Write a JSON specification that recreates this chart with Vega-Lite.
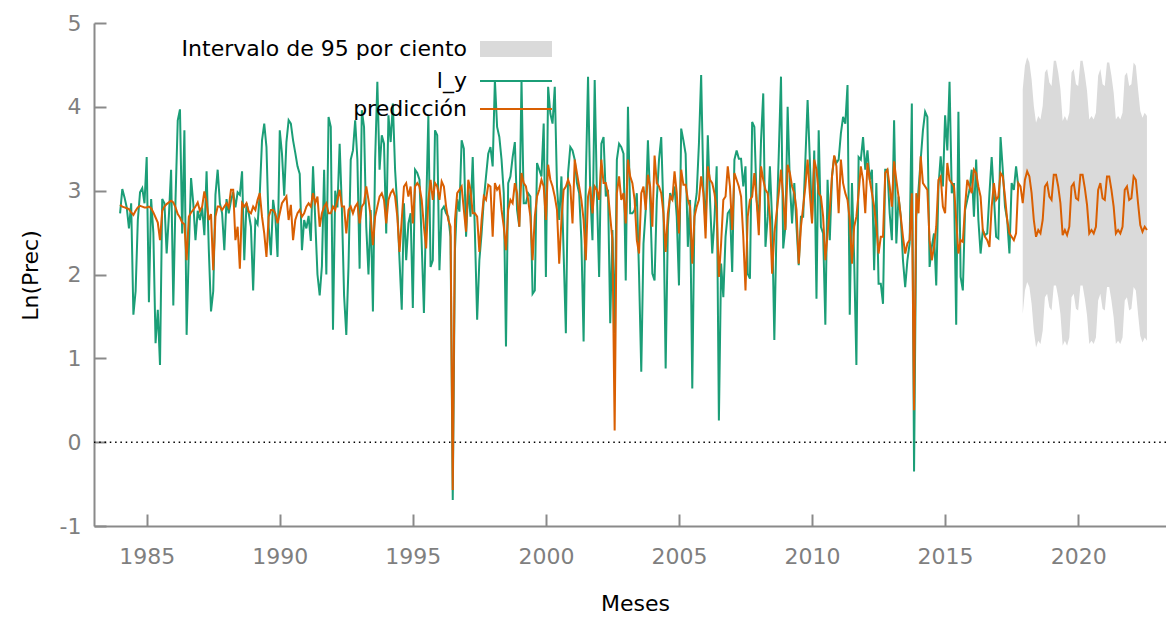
{
  "$schema": "https://vega.github.io/schema/vega-lite/v6.json",
  "width": 1072,
  "height": 503,
  "autosize": {"type": "none"},
  "padding": {"left": 94, "top": 23, "right": 0, "bottom": 91},
  "background": "#ffffff",
  "config": {
    "font": "DejaVu Sans",
    "view": {"stroke": null},
    "axis": {
      "grid": false,
      "domainColor": "#8a8a8a",
      "domainWidth": 2,
      "tickColor": "#8a8a8a",
      "tickWidth": 2,
      "tickSize": -12,
      "labelColor": "#7f7f7f",
      "labelFont": "DejaVu Sans",
      "labelFontSize": 22,
      "titleColor": "#000000",
      "titleFont": "DejaVu Sans",
      "titleFontSize": 22,
      "titleFontWeight": "normal"
    },
    "legend": {
      "title": null,
      "orient": "none",
      "padding": 0,
      "labelFont": "DejaVu Sans",
      "labelFontSize": 22,
      "labelColor": "#000000",
      "labelLimit": 500,
      "labelAlign": "right"
    }
  },
  "datasets": {
    "prec": [
      {"t":1984,"ly":2.73,"p":2.83},{"t":1984.0833,"ly":3.02,"p":2.81},{"t":1984.1667,"ly":2.92,"p":2.80},{"t":1984.25,"ly":2.80,"p":2.79},{"t":1984.3333,"ly":2.55,"p":2.78},{"t":1984.4167,"ly":2.85,"p":2.74},{"t":1984.5,"ly":1.52,"p":2.71},{"t":1984.5833,"ly":1.80,"p":2.76},{"t":1984.6667,"ly":2.65,"p":2.80},{"t":1984.75,"ly":2.98,"p":2.82},{"t":1984.8333,"ly":3.03,"p":2.81},{"t":1984.9167,"ly":2.85,"p":2.80},
      {"t":1985,"ly":3.40,"p":2.80},{"t":1985.0833,"ly":1.67,"p":2.81},{"t":1985.1667,"ly":2.90,"p":2.79},{"t":1985.25,"ly":2.50,"p":2.74},{"t":1985.3333,"ly":1.18,"p":2.68},{"t":1985.4167,"ly":1.58,"p":2.62},{"t":1985.5,"ly":0.92,"p":2.41},{"t":1985.5833,"ly":2.90,"p":2.76},{"t":1985.6667,"ly":2.85,"p":2.81},{"t":1985.75,"ly":2.25,"p":2.84},{"t":1985.8333,"ly":2.70,"p":2.86},{"t":1985.9167,"ly":3.25,"p":2.88},
      {"t":1986,"ly":1.63,"p":2.86},{"t":1986.0833,"ly":2.90,"p":2.80},{"t":1986.1667,"ly":3.84,"p":2.72},{"t":1986.25,"ly":3.97,"p":2.68},{"t":1986.3333,"ly":2.49,"p":2.62},{"t":1986.4167,"ly":3.72,"p":2.60},{"t":1986.5,"ly":1.28,"p":2.17},{"t":1986.5833,"ly":2.30,"p":2.69},{"t":1986.6667,"ly":3.15,"p":2.74},{"t":1986.75,"ly":2.85,"p":2.77},{"t":1986.8333,"ly":2.41,"p":2.81},{"t":1986.9167,"ly":2.76,"p":2.86},
      {"t":1987,"ly":2.65,"p":2.76},{"t":1987.0833,"ly":2.80,"p":2.81},{"t":1987.1667,"ly":2.47,"p":2.99},{"t":1987.25,"ly":3.23,"p":2.87},{"t":1987.3333,"ly":2.30,"p":2.65},{"t":1987.4167,"ly":1.56,"p":2.72},{"t":1987.5,"ly":1.80,"p":2.05},{"t":1987.5833,"ly":2.95,"p":2.69},{"t":1987.6667,"ly":3.25,"p":2.81},{"t":1987.75,"ly":2.85,"p":2.81},{"t":1987.8333,"ly":2.73,"p":2.77},{"t":1987.9167,"ly":2.29,"p":2.81},
      {"t":1988,"ly":2.90,"p":2.85},{"t":1988.0833,"ly":2.73,"p":2.80},{"t":1988.1667,"ly":2.88,"p":3.01},{"t":1988.25,"ly":2.98,"p":3.01},{"t":1988.3333,"ly":2.80,"p":2.41},{"t":1988.4167,"ly":2.98,"p":2.57},{"t":1988.5,"ly":2.95,"p":2.07},{"t":1988.5833,"ly":3.23,"p":2.85},{"t":1988.6667,"ly":2.17,"p":2.81},{"t":1988.75,"ly":2.85,"p":2.85},{"t":1988.8333,"ly":2.73,"p":2.75},{"t":1988.9167,"ly":2.57,"p":2.73},
      {"t":1989,"ly":1.81,"p":2.81},{"t":1989.0833,"ly":2.65,"p":2.77},{"t":1989.1667,"ly":2.60,"p":2.89},{"t":1989.25,"ly":2.97,"p":2.97},{"t":1989.3333,"ly":3.60,"p":2.69},{"t":1989.4167,"ly":3.80,"p":2.49},{"t":1989.5,"ly":3.52,"p":2.21},{"t":1989.5833,"ly":2.57,"p":2.69},{"t":1989.6667,"ly":2.23,"p":2.77},{"t":1989.75,"ly":2.89,"p":2.77},{"t":1989.8333,"ly":2.69,"p":2.73},{"t":1989.9167,"ly":2.21,"p":2.61},
      {"t":1990,"ly":3.72,"p":2.73},{"t":1990.0833,"ly":3.44,"p":2.85},{"t":1990.1667,"ly":2.94,"p":2.89},{"t":1990.25,"ly":3.58,"p":2.93},{"t":1990.3333,"ly":3.84,"p":2.65},{"t":1990.4167,"ly":3.80,"p":2.83},{"t":1990.5,"ly":3.60,"p":2.41},{"t":1990.5833,"ly":3.45,"p":2.65},{"t":1990.6667,"ly":3.29,"p":2.73},{"t":1990.75,"ly":3.20,"p":2.77},{"t":1990.8333,"ly":2.29,"p":2.69},{"t":1990.9167,"ly":2.65,"p":2.73},
      {"t":1991,"ly":2.55,"p":2.81},{"t":1991.0833,"ly":2.70,"p":2.85},{"t":1991.1667,"ly":2.40,"p":2.81},{"t":1991.25,"ly":3.29,"p":2.97},{"t":1991.3333,"ly":2.65,"p":2.85},{"t":1991.4167,"ly":2.00,"p":2.93},{"t":1991.5,"ly":1.75,"p":2.57},{"t":1991.5833,"ly":2.10,"p":2.73},{"t":1991.6667,"ly":3.25,"p":2.81},{"t":1991.75,"ly":2.00,"p":2.85},{"t":1991.8333,"ly":3.88,"p":2.73},{"t":1991.9167,"ly":3.76,"p":2.73},
      {"t":1992,"ly":1.34,"p":2.81},{"t":1992.0833,"ly":3.00,"p":2.77},{"t":1992.1667,"ly":2.80,"p":2.89},{"t":1992.25,"ly":3.56,"p":3.01},{"t":1992.3333,"ly":2.80,"p":2.81},{"t":1992.4167,"ly":1.75,"p":2.81},{"t":1992.5,"ly":1.28,"p":2.49},{"t":1992.5833,"ly":2.10,"p":2.77},{"t":1992.6667,"ly":3.37,"p":2.81},{"t":1992.75,"ly":3.48,"p":2.73},{"t":1992.8333,"ly":3.84,"p":2.81},{"t":1992.9167,"ly":3.37,"p":2.85},
      {"t":1993,"ly":2.07,"p":2.61},{"t":1993.0833,"ly":3.96,"p":2.81},{"t":1993.1667,"ly":3.76,"p":2.85},{"t":1993.25,"ly":2.57,"p":3.05},{"t":1993.3333,"ly":2.00,"p":2.89},{"t":1993.4167,"ly":2.77,"p":2.69},{"t":1993.5,"ly":1.56,"p":2.35},{"t":1993.5833,"ly":3.37,"p":2.69},{"t":1993.6667,"ly":4.30,"p":2.81},{"t":1993.75,"ly":3.25,"p":2.93},{"t":1993.8333,"ly":3.66,"p":2.97},{"t":1993.9167,"ly":3.56,"p":2.89},
      {"t":1994,"ly":2.49,"p":2.61},{"t":1994.0833,"ly":3.90,"p":2.89},{"t":1994.1667,"ly":3.58,"p":2.97},{"t":1994.25,"ly":4.04,"p":3.01},{"t":1994.3333,"ly":3.25,"p":2.93},{"t":1994.4167,"ly":2.80,"p":2.69},{"t":1994.5,"ly":2.17,"p":2.27},{"t":1994.5833,"ly":1.58,"p":2.65},{"t":1994.6667,"ly":2.85,"p":3.05},{"t":1994.75,"ly":2.17,"p":3.09},{"t":1994.8333,"ly":2.61,"p":2.93},{"t":1994.9167,"ly":2.73,"p":3.05},
      {"t":1995,"ly":1.60,"p":2.61},{"t":1995.0833,"ly":3.25,"p":3.05},{"t":1995.1667,"ly":3.21,"p":3.09},{"t":1995.25,"ly":3.13,"p":3.05},{"t":1995.3333,"ly":2.37,"p":2.89},{"t":1995.4167,"ly":1.54,"p":2.57},{"t":1995.5,"ly":2.77,"p":2.31},{"t":1995.5833,"ly":3.90,"p":2.89},{"t":1995.6667,"ly":2.09,"p":3.13},{"t":1995.75,"ly":2.17,"p":2.89},{"t":1995.8333,"ly":3.72,"p":3.09},{"t":1995.9167,"ly":3.66,"p":3.05},
      {"t":1996,"ly":2.05,"p":2.89},{"t":1996.0833,"ly":2.77,"p":3.11},{"t":1996.1667,"ly":2.81,"p":3.05},{"t":1996.25,"ly":2.73,"p":2.81},{"t":1996.3333,"ly":2.69,"p":2.65},{"t":1996.4167,"ly":2.45,"p":2.57},{"t":1996.5,"ly":-0.69,"p":-0.57},{"t":1996.5833,"ly":2.30,"p":2.65},{"t":1996.6667,"ly":2.90,"p":2.97},{"t":1996.75,"ly":2.75,"p":3.01},{"t":1996.8333,"ly":3.60,"p":3.05},{"t":1996.9167,"ly":3.50,"p":2.77},
      {"t":1997,"ly":2.45,"p":2.51},{"t":1997.0833,"ly":3.05,"p":3.13},{"t":1997.1667,"ly":2.69,"p":3.01},{"t":1997.25,"ly":3.40,"p":2.73},{"t":1997.3333,"ly":2.49,"p":2.73},{"t":1997.4167,"ly":1.46,"p":2.69},{"t":1997.5,"ly":2.17,"p":2.27},{"t":1997.5833,"ly":2.49,"p":2.65},{"t":1997.6667,"ly":2.89,"p":2.93},{"t":1997.75,"ly":3.17,"p":2.89},{"t":1997.8333,"ly":3.44,"p":3.07},{"t":1997.9167,"ly":3.52,"p":3.05},
      {"t":1998,"ly":3.29,"p":2.45},{"t":1998.0833,"ly":4.32,"p":3.09},{"t":1998.1667,"ly":3.76,"p":3.01},{"t":1998.25,"ly":3.64,"p":3.05},{"t":1998.3333,"ly":3.37,"p":2.77},{"t":1998.4167,"ly":2.97,"p":2.57},{"t":1998.5,"ly":1.14,"p":2.29},{"t":1998.5833,"ly":3.09,"p":2.77},{"t":1998.6667,"ly":3.17,"p":2.89},{"t":1998.75,"ly":3.40,"p":2.85},{"t":1998.8333,"ly":3.58,"p":3.09},{"t":1998.9167,"ly":2.77,"p":2.97},
      {"t":1999,"ly":2.57,"p":2.57},{"t":1999.0833,"ly":4.32,"p":3.21},{"t":1999.1667,"ly":2.85,"p":3.09},{"t":1999.25,"ly":2.85,"p":3.05},{"t":1999.3333,"ly":2.97,"p":2.89},{"t":1999.4167,"ly":2.93,"p":2.69},{"t":1999.5,"ly":1.77,"p":2.17},{"t":1999.5833,"ly":1.81,"p":2.69},{"t":1999.6667,"ly":3.33,"p":2.93},{"t":1999.75,"ly":3.25,"p":3.01},{"t":1999.8333,"ly":3.17,"p":3.13},{"t":1999.9167,"ly":3.80,"p":3.05},
      {"t":2000,"ly":1.97,"p":2.65},{"t":2000.0833,"ly":4.24,"p":3.31},{"t":2000.1667,"ly":3.92,"p":3.13},{"t":2000.25,"ly":3.80,"p":3.05},{"t":2000.3333,"ly":4.24,"p":2.93},{"t":2000.4167,"ly":3.05,"p":2.77},{"t":2000.5,"ly":2.65,"p":2.13},{"t":2000.5833,"ly":3.17,"p":2.65},{"t":2000.6667,"ly":2.25,"p":3.01},{"t":2000.75,"ly":1.30,"p":3.05},{"t":2000.8333,"ly":3.21,"p":3.13},{"t":2000.9167,"ly":3.52,"p":3.05},
      {"t":2001,"ly":3.48,"p":2.61},{"t":2001.0833,"ly":3.37,"p":3.37},{"t":2001.1667,"ly":3.09,"p":3.21},{"t":2001.25,"ly":2.97,"p":3.05},{"t":2001.3333,"ly":2.41,"p":2.89},{"t":2001.4167,"ly":1.20,"p":2.65},{"t":2001.5,"ly":3.13,"p":2.17},{"t":2001.5833,"ly":4.36,"p":2.93},{"t":2001.6667,"ly":2.97,"p":3.05},{"t":2001.75,"ly":2.41,"p":2.73},{"t":2001.8333,"ly":4.32,"p":3.05},{"t":2001.9167,"ly":2.97,"p":3.01},
      {"t":2002,"ly":1.97,"p":2.89},{"t":2002.0833,"ly":3.56,"p":3.37},{"t":2002.1667,"ly":3.64,"p":3.09},{"t":2002.25,"ly":2.93,"p":3.09},{"t":2002.3333,"ly":3.01,"p":2.97},{"t":2002.4167,"ly":1.42,"p":2.69},{"t":2002.5,"ly":2.53,"p":2.41},{"t":2002.5833,"ly":1.30,"p":0.14},{"t":2002.6667,"ly":3.37,"p":2.97},{"t":2002.75,"ly":3.56,"p":3.17},{"t":2002.8333,"ly":3.52,"p":2.89},{"t":2002.9167,"ly":3.44,"p":2.97},
      {"t":2003,"ly":1.93,"p":2.61},{"t":2003.0833,"ly":4.00,"p":3.37},{"t":2003.1667,"ly":2.73,"p":3.17},{"t":2003.25,"ly":2.73,"p":3.09},{"t":2003.3333,"ly":2.77,"p":2.89},{"t":2003.4167,"ly":2.97,"p":2.41},{"t":2003.5,"ly":2.00,"p":2.25},{"t":2003.5833,"ly":0.84,"p":2.97},{"t":2003.6667,"ly":2.37,"p":3.05},{"t":2003.75,"ly":2.77,"p":2.77},{"t":2003.8333,"ly":3.60,"p":3.19},{"t":2003.9167,"ly":2.89,"p":3.05},
      {"t":2004,"ly":2.01,"p":2.57},{"t":2004.0833,"ly":1.93,"p":3.42},{"t":2004.1667,"ly":2.89,"p":3.09},{"t":2004.25,"ly":3.37,"p":3.05},{"t":2004.3333,"ly":3.64,"p":2.97},{"t":2004.4167,"ly":2.77,"p":2.73},{"t":2004.5,"ly":0.88,"p":2.27},{"t":2004.5833,"ly":2.57,"p":2.73},{"t":2004.6667,"ly":2.97,"p":2.93},{"t":2004.75,"ly":2.89,"p":2.89},{"t":2004.8333,"ly":3.05,"p":3.23},{"t":2004.9167,"ly":2.69,"p":2.97},
      {"t":2005,"ly":1.87,"p":2.49},{"t":2005.0833,"ly":3.74,"p":3.25},{"t":2005.1667,"ly":3.60,"p":3.07},{"t":2005.25,"ly":3.44,"p":3.07},{"t":2005.3333,"ly":2.33,"p":2.89},{"t":2005.4167,"ly":2.89,"p":2.81},{"t":2005.5,"ly":0.64,"p":2.13},{"t":2005.5833,"ly":2.77,"p":2.69},{"t":2005.6667,"ly":2.97,"p":2.81},{"t":2005.75,"ly":3.56,"p":2.89},{"t":2005.8333,"ly":4.38,"p":3.17},{"t":2005.9167,"ly":3.05,"p":2.97},
      {"t":2006,"ly":2.57,"p":2.43},{"t":2006.0833,"ly":3.66,"p":3.29},{"t":2006.1667,"ly":2.89,"p":3.13},{"t":2006.25,"ly":2.25,"p":3.09},{"t":2006.3333,"ly":2.65,"p":2.97},{"t":2006.4167,"ly":3.29,"p":2.77},{"t":2006.5,"ly":0.26,"p":1.97},{"t":2006.5833,"ly":2.13,"p":2.37},{"t":2006.6667,"ly":1.73,"p":2.89},{"t":2006.75,"ly":2.45,"p":2.93},{"t":2006.8333,"ly":2.73,"p":3.29},{"t":2006.9167,"ly":2.77,"p":3.05},
      {"t":2007,"ly":2.03,"p":2.53},{"t":2007.0833,"ly":3.37,"p":3.21},{"t":2007.1667,"ly":3.48,"p":3.13},{"t":2007.25,"ly":3.38,"p":3.05},{"t":2007.3333,"ly":3.38,"p":2.93},{"t":2007.4167,"ly":3.05,"p":2.45},{"t":2007.5,"ly":3.29,"p":1.81},{"t":2007.5833,"ly":2.01,"p":2.69},{"t":2007.6667,"ly":1.95,"p":2.89},{"t":2007.75,"ly":3.82,"p":2.93},{"t":2007.8333,"ly":3.76,"p":3.21},{"t":2007.9167,"ly":2.89,"p":2.89},
      {"t":2008,"ly":2.65,"p":2.47},{"t":2008.0833,"ly":3.60,"p":3.29},{"t":2008.1667,"ly":4.16,"p":3.13},{"t":2008.25,"ly":2.33,"p":3.01},{"t":2008.3333,"ly":2.69,"p":2.97},{"t":2008.4167,"ly":3.29,"p":2.69},{"t":2008.5,"ly":2.65,"p":2.01},{"t":2008.5833,"ly":1.22,"p":2.49},{"t":2008.6667,"ly":2.57,"p":2.73},{"t":2008.75,"ly":3.44,"p":2.97},{"t":2008.8333,"ly":4.36,"p":3.25},{"t":2008.9167,"ly":2.31,"p":2.93},
      {"t":2009,"ly":2.57,"p":2.53},{"t":2009.0833,"ly":4.00,"p":3.31},{"t":2009.1667,"ly":3.09,"p":3.21},{"t":2009.25,"ly":2.61,"p":3.05},{"t":2009.3333,"ly":3.09,"p":2.97},{"t":2009.4167,"ly":2.57,"p":2.77},{"t":2009.5,"ly":2.11,"p":2.13},{"t":2009.5833,"ly":2.69,"p":2.57},{"t":2009.6667,"ly":2.69,"p":2.81},{"t":2009.75,"ly":3.37,"p":3.05},{"t":2009.8333,"ly":4.08,"p":3.37},{"t":2009.9167,"ly":3.37,"p":2.97},
      {"t":2010,"ly":2.65,"p":2.61},{"t":2010.0833,"ly":3.48,"p":3.37},{"t":2010.1667,"ly":1.71,"p":3.25},{"t":2010.25,"ly":3.72,"p":2.97},{"t":2010.3333,"ly":2.57,"p":2.93},{"t":2010.4167,"ly":2.49,"p":2.69},{"t":2010.5,"ly":1.40,"p":2.17},{"t":2010.5833,"ly":3.13,"p":2.49},{"t":2010.6667,"ly":2.41,"p":2.77},{"t":2010.75,"ly":3.17,"p":3.17},{"t":2010.8333,"ly":3.41,"p":3.42},{"t":2010.9167,"ly":3.33,"p":3.29},
      {"t":2011,"ly":3.37,"p":2.73},{"t":2011.0833,"ly":3.68,"p":3.37},{"t":2011.1667,"ly":3.88,"p":3.09},{"t":2011.25,"ly":3.80,"p":2.97},{"t":2011.3333,"ly":4.26,"p":2.89},{"t":2011.4167,"ly":1.52,"p":2.65},{"t":2011.5,"ly":3.09,"p":2.13},{"t":2011.5833,"ly":2.17,"p":2.57},{"t":2011.6667,"ly":0.92,"p":2.69},{"t":2011.75,"ly":3.40,"p":2.97},{"t":2011.8333,"ly":3.37,"p":3.29},{"t":2011.9167,"ly":3.64,"p":3.13},
      {"t":2012,"ly":3.25,"p":2.73},{"t":2012.0833,"ly":3.48,"p":3.33},{"t":2012.1667,"ly":3.13,"p":3.13},{"t":2012.25,"ly":3.25,"p":2.97},{"t":2012.3333,"ly":2.05,"p":2.81},{"t":2012.4167,"ly":3.09,"p":2.57},{"t":2012.5,"ly":1.89,"p":2.25},{"t":2012.5833,"ly":1.89,"p":2.45},{"t":2012.6667,"ly":1.65,"p":2.45},{"t":2012.75,"ly":3.25,"p":3.21},{"t":2012.8333,"ly":3.25,"p":3.25},{"t":2012.9167,"ly":2.73,"p":3.05},
      {"t":2013,"ly":2.41,"p":2.81},{"t":2013.0833,"ly":3.84,"p":3.35},{"t":2013.1667,"ly":2.37,"p":3.13},{"t":2013.25,"ly":2.93,"p":2.93},{"t":2013.3333,"ly":2.69,"p":2.69},{"t":2013.4167,"ly":2.17,"p":2.45},{"t":2013.5,"ly":1.85,"p":2.25},{"t":2013.5833,"ly":2.17,"p":2.37},{"t":2013.6667,"ly":2.37,"p":2.41},{"t":2013.75,"ly":4.04,"p":2.97},{"t":2013.8333,"ly":-0.35,"p":0.38},{"t":2013.9167,"ly":2.69,"p":2.97},
      {"t":2014,"ly":3.01,"p":2.73},{"t":2014.0833,"ly":3.37,"p":3.41},{"t":2014.1667,"ly":3.72,"p":3.09},{"t":2014.25,"ly":3.94,"p":3.05},{"t":2014.3333,"ly":3.88,"p":3.01},{"t":2014.4167,"ly":2.09,"p":2.41},{"t":2014.5,"ly":2.33,"p":2.17},{"t":2014.5833,"ly":2.49,"p":2.33},{"t":2014.6667,"ly":1.87,"p":2.57},{"t":2014.75,"ly":3.05,"p":3.13},{"t":2014.8333,"ly":3.41,"p":3.17},{"t":2014.9167,"ly":3.05,"p":2.81},
      {"t":2015,"ly":3.90,"p":2.73},{"t":2015.0833,"ly":3.48,"p":3.33},{"t":2015.1667,"ly":4.30,"p":3.13},{"t":2015.25,"ly":2.97,"p":3.09},{"t":2015.3333,"ly":3.09,"p":3.05},{"t":2015.4167,"ly":1.40,"p":2.65},{"t":2015.5,"ly":3.94,"p":2.25},{"t":2015.5833,"ly":1.97,"p":2.41},{"t":2015.6667,"ly":1.81,"p":2.39},{"t":2015.75,"ly":2.77,"p":2.81},{"t":2015.8333,"ly":2.89,"p":3.13},{"t":2015.9167,"ly":3.01,"p":3.05},
      {"t":2016,"ly":3.25,"p":2.97},{"t":2016.0833,"ly":2.69,"p":3.25},{"t":2016.1667,"ly":3.37,"p":3.21},{"t":2016.25,"ly":2.65,"p":3.05},{"t":2016.3333,"ly":2.25,"p":2.93},{"t":2016.4167,"ly":2.53,"p":2.53},{"t":2016.5,"ly":2.47,"p":2.45},{"t":2016.5833,"ly":2.49,"p":2.41},{"t":2016.6667,"ly":2.97,"p":2.33},{"t":2016.75,"ly":3.40,"p":2.81},{"t":2016.8333,"ly":2.93,"p":3.09},{"t":2016.9167,"ly":2.45,"p":2.89},
      {"t":2017,"ly":2.43,"p":2.93},{"t":2017.0833,"ly":3.64,"p":3.21},{"t":2017.1667,"ly":3.25,"p":3.17},{"t":2017.25,"ly":2.81,"p":2.93},{"t":2017.3333,"ly":2.65,"p":2.65},{"t":2017.4167,"ly":2.25,"p":2.49},{"t":2017.5,"ly":3.09,"p":2.45},{"t":2017.5833,"ly":3.01,"p":2.41},{"t":2017.6667,"ly":3.29,"p":2.49},{"t":2017.75,"ly":3.05,"p":3.09},{"t":2017.8333,"p":3.05},{"t":2017.9167,"p":2.85,"lo":1.53,"hi":4.21},
      {"t":2018,"p":3.13,"lo":1.81,"hi":4.49},{"t":2018.0833,"p":3.23,"lo":1.91,"hi":4.59},{"t":2018.1667,"p":3.17,"lo":1.85,"hi":4.53},{"t":2018.25,"p":2.97,"lo":1.65,"hi":4.33},{"t":2018.3333,"p":2.65,"lo":1.33,"hi":4.01},{"t":2018.4167,"p":2.45,"lo":1.13,"hi":3.81},{"t":2018.5,"p":2.53,"lo":1.21,"hi":3.89},{"t":2018.5833,"p":2.49,"lo":1.17,"hi":3.85},{"t":2018.6667,"p":2.65,"lo":1.33,"hi":4.01},{"t":2018.75,"p":3.05,"lo":1.73,"hi":4.41},{"t":2018.8333,"p":3.09,"lo":1.77,"hi":4.45},{"t":2018.9167,"p":2.93,"lo":1.61,"hi":4.29},
      {"t":2019,"p":2.89,"lo":1.57,"hi":4.25},{"t":2019.0833,"p":3.19,"lo":1.87,"hi":4.55},{"t":2019.1667,"p":3.19,"lo":1.87,"hi":4.55},{"t":2019.25,"p":3.05,"lo":1.73,"hi":4.41},{"t":2019.3333,"p":2.85,"lo":1.53,"hi":4.21},{"t":2019.4167,"p":2.47,"lo":1.15,"hi":3.83},{"t":2019.5,"p":2.53,"lo":1.21,"hi":3.89},{"t":2019.5833,"p":2.47,"lo":1.15,"hi":3.83},{"t":2019.6667,"p":2.57,"lo":1.25,"hi":3.93},{"t":2019.75,"p":3.05,"lo":1.73,"hi":4.41},{"t":2019.8333,"p":3.09,"lo":1.77,"hi":4.45},{"t":2019.9167,"p":2.91,"lo":1.59,"hi":4.27},
      {"t":2020,"p":2.89,"lo":1.57,"hi":4.25},{"t":2020.0833,"p":3.19,"lo":1.87,"hi":4.55},{"t":2020.1667,"p":3.19,"lo":1.87,"hi":4.55},{"t":2020.25,"p":3.03,"lo":1.71,"hi":4.39},{"t":2020.3333,"p":2.83,"lo":1.51,"hi":4.19},{"t":2020.4167,"p":2.49,"lo":1.17,"hi":3.85},{"t":2020.5,"p":2.53,"lo":1.21,"hi":3.89},{"t":2020.5833,"p":2.49,"lo":1.17,"hi":3.85},{"t":2020.6667,"p":2.57,"lo":1.25,"hi":3.93},{"t":2020.75,"p":3.01,"lo":1.69,"hi":4.37},{"t":2020.8333,"p":3.09,"lo":1.77,"hi":4.45},{"t":2020.9167,"p":2.91,"lo":1.59,"hi":4.27},
      {"t":2021,"p":2.89,"lo":1.57,"hi":4.25},{"t":2021.0833,"p":3.17,"lo":1.85,"hi":4.53},{"t":2021.1667,"p":3.17,"lo":1.85,"hi":4.53},{"t":2021.25,"p":3.01,"lo":1.69,"hi":4.37},{"t":2021.3333,"p":2.81,"lo":1.49,"hi":4.17},{"t":2021.4167,"p":2.49,"lo":1.17,"hi":3.85},{"t":2021.5,"p":2.53,"lo":1.21,"hi":3.89},{"t":2021.5833,"p":2.49,"lo":1.17,"hi":3.85},{"t":2021.6667,"p":2.57,"lo":1.25,"hi":3.93},{"t":2021.75,"p":3.01,"lo":1.69,"hi":4.37},{"t":2021.8333,"p":3.05,"lo":1.73,"hi":4.41},{"t":2021.9167,"p":2.89,"lo":1.57,"hi":4.25},
      {"t":2022,"p":2.91,"lo":1.59,"hi":4.27},{"t":2022.0833,"p":3.17,"lo":1.85,"hi":4.53},{"t":2022.1667,"p":3.13,"lo":1.81,"hi":4.49},{"t":2022.25,"p":2.85,"lo":1.53,"hi":4.21},{"t":2022.3333,"p":2.59,"lo":1.27,"hi":3.95},{"t":2022.4167,"p":2.51,"lo":1.19,"hi":3.87},{"t":2022.5,"p":2.57,"lo":1.25,"hi":3.93},{"t":2022.5833,"p":2.53,"lo":1.21,"hi":3.89}
    ]
  },
  "data": {"name": "prec"},
  "layer": [
    {
      "transform": [{"filter": "isValid(datum.lo)"}],
      "mark": {"type": "area", "opacity": 1},
      "encoding": {
        "x": {
          "field": "t",
          "type": "quantitative",
          "scale": {"domain": [1983.02, 2023.3], "nice": false, "zero": false},
          "axis": {"title": "Meses", "values": [1985, 1990, 1995, 2000, 2005, 2010, 2015, 2020], "labelExpr": "toString(datum.value)", "labelPadding": 42, "labelBaseline": "middle", "titleX": 541, "titleY": 77, "titleBaseline": "middle"}
        },
        "y": {
          "field": "lo",
          "type": "quantitative",
          "scale": {"domain": [-1, 5], "nice": false, "zero": false},
          "axis": {"title": "Ln(Prec)", "values": [-1, 0, 1, 2, 3, 4, 5], "labelExpr": "toString(datum.value)", "labelPadding": 25, "titleX": -64, "titleY": 252, "titleBaseline": "middle"}
        },
        "y2": {"field": "hi"},
        "fill": {
          "datum": "Intervalo de 95 por ciento",
          "type": "nominal",
          "scale": {"range": ["#dadada"]},
          "legend": {"legendX": 410, "legendY": 14, "symbolType": "M-3,-0.67H3V0.67H-3Z", "symbolSize": 576, "symbolStrokeWidth": 0, "labelOffset": -61}
        }
      }
    },
    {
      "data": {"values": [{}]},
      "mark": {"type": "rule", "color": "#000000", "strokeWidth": 1.5, "strokeDash": [1.5, 3.8]},
      "encoding": {
        "y": {
          "datum": 0,
          "type": "quantitative",
          "scale": {"domain": [-1, 5], "nice": false, "zero": false},
          "axis": {"title": "Ln(Prec)", "values": [-1, 0, 1, 2, 3, 4, 5], "labelExpr": "toString(datum.value)", "labelPadding": 25, "titleX": -64, "titleY": 252, "titleBaseline": "middle"}
        }
      }
    },
    {
      "transform": [{"filter": "isValid(datum.ly)"}],
      "mark": {"type": "line", "strokeWidth": 2},
      "encoding": {
        "x": {
          "field": "t",
          "type": "quantitative",
          "scale": {"domain": [1983.02, 2023.3], "nice": false, "zero": false},
          "axis": {"title": "Meses", "values": [1985, 1990, 1995, 2000, 2005, 2010, 2015, 2020], "labelExpr": "toString(datum.value)", "labelPadding": 42, "labelBaseline": "middle", "titleX": 541, "titleY": 77, "titleBaseline": "middle"}
        },
        "y": {
          "field": "ly",
          "type": "quantitative",
          "scale": {"domain": [-1, 5], "nice": false, "zero": false},
          "axis": {"title": "Ln(Prec)", "values": [-1, 0, 1, 2, 3, 4, 5], "labelExpr": "toString(datum.value)", "labelPadding": 25, "titleX": -64, "titleY": 252, "titleBaseline": "middle"}
        },
        "stroke": {
          "datum": "l_y",
          "type": "nominal",
          "scale": {"domain": ["l_y", "predicción"], "range": ["#1b9e77", "#d95f02"]},
          "legend": {"legendX": 409, "legendY": 45, "symbolType": "M-3,0H3", "symbolSize": 576, "symbolStrokeWidth": 2, "labelOffset": -62, "rowPadding": 4}
        }
      }
    },
    {
      "transform": [{"filter": "isValid(datum.p)"}],
      "mark": {"type": "line", "strokeWidth": 2},
      "encoding": {
        "x": {
          "field": "t",
          "type": "quantitative",
          "scale": {"domain": [1983.02, 2023.3], "nice": false, "zero": false},
          "axis": {"title": "Meses", "values": [1985, 1990, 1995, 2000, 2005, 2010, 2015, 2020], "labelExpr": "toString(datum.value)", "labelPadding": 42, "labelBaseline": "middle", "titleX": 541, "titleY": 77, "titleBaseline": "middle"}
        },
        "y": {
          "field": "p",
          "type": "quantitative",
          "scale": {"domain": [-1, 5], "nice": false, "zero": false},
          "axis": {"title": "Ln(Prec)", "values": [-1, 0, 1, 2, 3, 4, 5], "labelExpr": "toString(datum.value)", "labelPadding": 25, "titleX": -64, "titleY": 252, "titleBaseline": "middle"}
        },
        "stroke": {
          "datum": "predicción",
          "type": "nominal",
          "scale": {"domain": ["l_y", "predicción"], "range": ["#1b9e77", "#d95f02"]},
          "legend": {"legendX": 409, "legendY": 45, "symbolType": "M-3,0H3", "symbolSize": 576, "symbolStrokeWidth": 2, "labelOffset": -62, "rowPadding": 4}
        }
      }
    }
  ]
}
